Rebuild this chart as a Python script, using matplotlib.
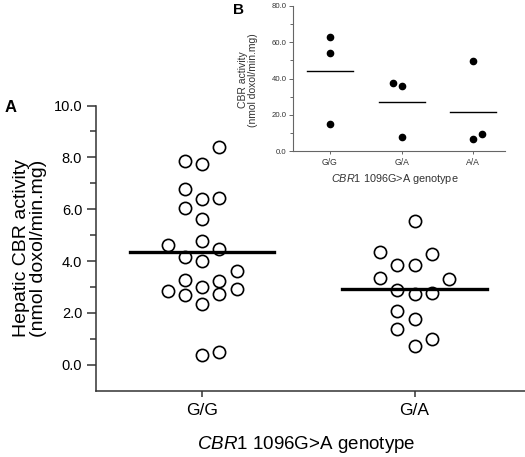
import matplotlib.pyplot as plt
from matplotlib.ticker import MultipleLocator, FixedLocator, FormatStrFormatter

plt.rcParams['font.family'] = ['Liberation Sans', 'DejaVu Sans']
plt.rcParams['mathtext.fontset'] = 'custom'
plt.rcParams['mathtext.it'] = 'Liberation Sans:italic'
plt.rcParams['mathtext.rm'] = 'Liberation Sans'

# --- panel A: hepatic CBR activity per genotype ---
genotypes_a = ["G/G", "G/A"]
gg_vals = [8.39, 7.88, 7.74, 6.77, 6.40, 6.44, 6.04, 5.64, 4.62, 4.79, 4.47, 4.15,
           4.02, 3.62, 3.26, 3.24, 3.01, 2.83, 2.92, 2.69, 2.72, 2.34, 0.37, 0.48]
gg_cols = [1, -1, 0, -1, 0, 1, -1, 0, -2, 0, 1, -1,
           0, 2, -1, 1, 0, -2, 2, -1, 1, 0, 0, 1]
ga_vals = [5.56, 4.34, 4.26, 3.85, 3.85, 3.35, 3.32, 2.88, 2.73, 2.78, 2.06, 1.76,
           1.37, 0.72, 0.99]
ga_cols = [0, -2, 1, -1, 0, -2, 2, -1, 0, 1, -1, 0, -1, 0, 1]
medians_a = [4.35, 2.92]

# --- panel B inset ---
genotypes_b = ["G/G", "G/A", "A/A"]
b_vals = [[63.1, 54.0, 15.2], [37.8, 36.0, 7.9], [49.7, 6.6, 9.7]]
b_offs = [[0, 0, 0], [-1, 0, 0], [0, 0, 1]]
means_b = [44.2, 27.1, 21.8]

fig = plt.figure(figsize=(5.25, 4.57), dpi=100)

ax = fig.add_axes([0.183, 0.145, 0.817, 0.624])
step = 0.081
for i, (vals, cols) in enumerate([(gg_vals, gg_cols), (ga_vals, ga_cols)]):
    xs = [i + 1 + c * step for c in cols]
    ax.plot(xs, vals, 'o', ms=8.8, mfc='white', mec='black', mew=1.2, ls='none')
    ax.plot([i + 1 - 0.34, i + 1 + 0.34], [medians_a[i]] * 2, color='black', lw=2.4)

ax.set_xlim(0.5, 2.52)
ax.set_ylim(-1, 10)
ax.set_xticks([1, 2])
ax.set_xticklabels(genotypes_a, fontsize=12.5)
ax.set_yticks([0, 2, 4, 6, 8, 10])
ax.yaxis.set_minor_locator(FixedLocator([1, 3, 5, 7, 9]))
ax.yaxis.set_major_formatter(FormatStrFormatter('%.1f'))
ax.tick_params(axis='y', labelsize=10.5, length=6.5, width=1.1, color='#333333')
ax.tick_params(axis='y', which='minor', length=4, width=1.1, color='#333333')
ax.tick_params(axis='x', length=4.5, width=1.1, color='#333333', pad=4)
for s in ['top', 'right']:
    ax.spines[s].set_visible(False)
for s in ['left', 'bottom']:
    ax.spines[s].set_linewidth(1.1)
    ax.spines[s].set_color('#333333')
ax.set_ylabel("Hepatic CBR activity\n(nmol doxol/min.mg)", fontsize=14, linespacing=1.0)
ax.yaxis.set_label_coords(-0.114, 0.5)
ax.set_xlabel(r"$\it{CBR1}$ 1096G>A genotype", fontsize=13.5)
ax.xaxis.set_label_coords(0.49, -0.152)
fig.text(0.008, 0.765, "A", fontsize=12, fontweight='bold', va='center')

# inset
bx = fig.add_axes([0.5575, 0.669, 0.404, 0.318])
for i in range(3):
    xs = [i + 1 + o * 0.12 for o in b_offs[i]]
    bx.plot(xs, b_vals[i], 'o', ms=4.5, color='black', ls='none')
    bx.plot([i + 1 - 0.32, i + 1 + 0.32], [means_b[i]] * 2, color='black', lw=1.0)
bx.set_xlim(0.48, 3.44)
bx.set_ylim(0, 80)
bx.set_xticks([1, 2, 3])
bx.set_xticklabels(genotypes_b, fontsize=6.2, color='#333333')
bx.set_yticks([0, 20, 40, 60, 80])
bx.yaxis.set_minor_locator(MultipleLocator(10))
bx.yaxis.set_major_formatter(FormatStrFormatter('%.1f'))
bx.tick_params(axis='y', labelsize=5.6, labelcolor='#333333', length=3, width=0.7,
               color='#666666', pad=1.5)
bx.tick_params(axis='y', which='minor', length=2, width=0.7, color='#666666')
bx.tick_params(axis='x', length=2.5, width=0.7, color='#666666', pad=2)
for s in ['top', 'right']:
    bx.spines[s].set_visible(False)
for s in ['left', 'bottom']:
    bx.spines[s].set_linewidth(0.8)
    bx.spines[s].set_color('#666666')
bx.set_ylabel("CBR activity\n(nmol doxol/min.mg)", fontsize=7.5, color='#333333',
              linespacing=1.0)
bx.yaxis.set_label_coords(-0.163, 0.49)
bx.set_xlabel(r"$\it{CBR1}$ 1096G>A genotype", fontsize=7.8, color='#333333')
bx.xaxis.set_label_coords(0.48, -0.14)
fig.text(0.443, 0.978, "B", fontsize=11, fontweight='bold', va='center')

fig.savefig("out.png", dpi=100)
